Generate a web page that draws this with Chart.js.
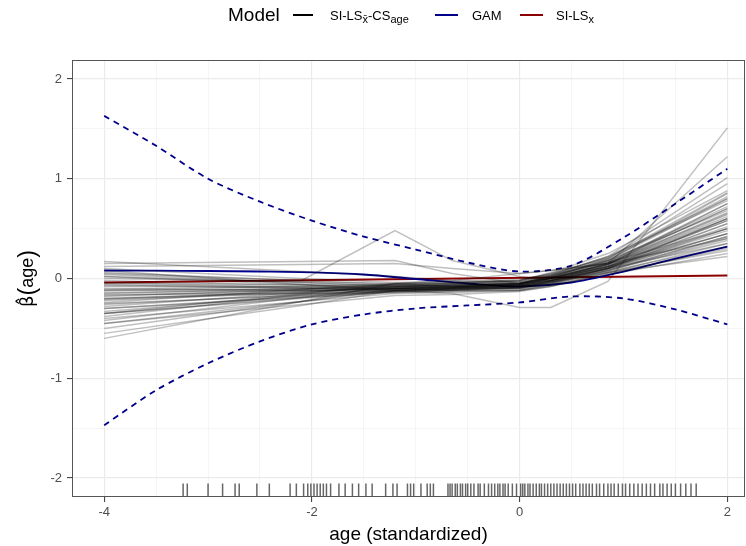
<!DOCTYPE html>
<html>
<head>
<meta charset="utf-8">
<script src="https://cdn.jsdelivr.net/npm/chart.js@4"></script>
<style>
  body { margin: 0; background: #fff; }
  canvas { display: block; }
</style>
</head>
<body>
<canvas id="grafico" width="746" height="546"></canvas>
<script>
// knots of the piecewise-linear SI-LS-CS curves (one curve per run)
let knots = [-4, -2.1, -1.2, -0.65, 0, 0.3, 0.85, 2];
let siCurves = [
  [-0.60, -0.23, -0.05, -0.08, -0.10, -0.05, 0.10, 0.55],
  [-0.50, -0.23, -0.10, -0.12, -0.12, -0.06, 0.08, 0.40],
  [-0.45, -0.23, -0.12, -0.10, -0.08, 0.00, 0.15, 0.70],
  [-0.42, -0.19, -0.08, -0.06, -0.05, 0.02, 0.18, 0.85],
  [-0.40, -0.23, -0.15, -0.14, -0.12, -0.08, 0.05, 0.30],
  [-0.38, -0.16, -0.06, -0.05, -0.02, 0.05, 0.20, 0.95],
  [-0.35, -0.19, -0.12, -0.10, -0.10, -0.04, 0.10, 0.60],
  [-0.33, -0.17, -0.10, -0.08, -0.06, 0.00, 0.12, 0.50],
  [-0.30, -0.19, -0.14, -0.12, -0.09, -0.02, 0.14, 0.75],
  [-0.28, -0.14, -0.08, -0.07, -0.05, 0.03, 0.22, 1.01],
  [-0.26, -0.16, -0.11, -0.10, -0.08, -0.03, 0.10, 0.45],
  [-0.25, -0.17, -0.13, -0.12, -0.11, -0.06, 0.06, 0.35],
  [-0.24, -0.11, -0.05, -0.04, -0.02, 0.06, 0.25, 0.88],
  [-0.22, -0.14, -0.10, -0.09, -0.07, -0.01, 0.15, 0.65],
  [-0.21, -0.13, -0.09, -0.08, -0.06, 0.01, 0.18, 0.80],
  [-0.20, -0.15, -0.12, -0.11, -0.09, -0.04, 0.09, 0.42],
  [-0.18, -0.11, -0.07, -0.06, -0.05, 0.02, 0.16, 0.70],
  [-0.17, -0.12, -0.10, -0.09, -0.07, -0.02, 0.12, 0.55],
  [-0.16, -0.15, -0.14, -0.13, -0.12, -0.07, 0.04, 0.25],
  [-0.15, -0.10, -0.08, -0.07, -0.05, 0.01, 0.20, 0.86],
  [-0.14, -0.12, -0.11, -0.10, -0.08, -0.03, 0.11, 0.48],
  [-0.12, -0.10, -0.09, -0.08, -0.06, 0.00, 0.14, 0.62],
  [-0.11, -0.08, -0.06, -0.05, -0.03, 0.04, 0.22, 0.80],
  [-0.10, -0.12, -0.13, -0.12, -0.10, -0.05, 0.08, 0.38],
  [-0.08, -0.09, -0.10, -0.09, -0.07, -0.02, 0.13, 0.58],
  [-0.07, -0.08, -0.08, -0.07, -0.05, 0.02, 0.17, 0.72],
  [-0.06, -0.10, -0.12, -0.11, -0.09, -0.04, 0.07, 0.32],
  [-0.05, -0.06, -0.07, -0.06, -0.04, 0.03, 0.19, 0.82],
  [-0.04, -0.09, -0.11, -0.10, -0.08, -0.03, 0.10, 0.45],
  [-0.02, -0.07, -0.09, -0.08, -0.06, 0.00, 0.15, 0.66],
  [0.00, -0.03, -0.05, -0.04, -0.02, 0.05, 0.21, 0.78],
  [0.02, -0.06, -0.10, -0.09, -0.07, -0.02, 0.11, 0.52],
  [0.04, -0.04, -0.08, -0.07, -0.05, 0.01, 0.14, 0.60],
  [0.06, -0.02, -0.06, -0.05, -0.03, 0.03, 0.18, 0.68],
  [0.08, -0.06, -0.12, -0.11, -0.09, -0.04, 0.06, 0.28],
  [0.10, 0.00, -0.04, -0.03, -0.01, 0.04, 0.16, 0.50],
  [0.12, 0.14, 0.15, 0.10, 0.05, 0.08, 0.15, 0.40],
  [0.15, 0.17, 0.18, 0.05, -0.05, -0.02, 0.10, 0.35],
  [0.17, 0.07, 0.02, -0.02, -0.04, 0.00, 0.12, 0.45],
  [0.05, -0.02, 0.48, 0.18, 0.02, -0.02, 0.12, 0.60],
  [-0.55, -0.27, -0.12, -0.15, -0.29, -0.29, -0.03, 1.51],
  [-0.35, -0.15, -0.05, -0.02, 0.05, 0.08, 0.15, 1.22],
  [-0.30, -0.18, -0.12, -0.10, -0.07, -0.02, 0.10, 0.50],
  [-0.20, -0.13, -0.10, -0.09, -0.06, 0.00, 0.12, 0.58],
  [-0.12, -0.11, -0.10, -0.09, -0.05, 0.01, 0.14, 0.64],
  [-0.35, -0.20, -0.13, -0.11, -0.09, -0.03, 0.08, 0.42],
  [0.02, -0.04, -0.07, -0.08, -0.06, 0.00, 0.16, 0.75],
  [-0.45, -0.26, -0.17, -0.16, -0.13, -0.08, 0.06, 0.22]
];

// GAM fit with its band
let gamX = [-4, -3.5, -3, -2.5, -2, -1.5, -1, -0.5, 0, 0.5, 1, 1.5, 2];
let gamFit = [0.08, 0.078, 0.075, 0.07, 0.062, 0.04, -0.005, -0.05, -0.08, -0.04, 0.07, 0.2, 0.32];
let gamUpper = [1.63, 1.33, 1.0, 0.77, 0.58, 0.42, 0.29, 0.16, 0.07, 0.13, 0.41, 0.75, 1.1];
let gamLower = [-1.47, -1.12, -0.85, -0.63, -0.46, -0.36, -0.3, -0.27, -0.24, -0.18, -0.2, -0.31, -0.46];

// SI-LS_x
let siLsX = [-4, 2];
let siLsY = [-0.04, 0.03];

// observed ages (rug)
let rugX = [-3.24, -3.20, -3.00, -2.86, -2.74, -2.70, -2.53, -2.41, -2.21, -2.15, -2.08, -2.04,
  -2.01, -1.98, -1.95, -1.92, -1.89, -1.86, -1.82, -1.74, -1.68, -1.61, -1.55, -1.48, -1.42,
  -1.29, -1.22, -1.18, -1.08, -1.05, -1.02, -0.95, -0.89, -0.86, -0.83, -0.69, -0.67, -0.65,
  -0.62, -0.60, -0.57, -0.55, -0.52, -0.50, -0.47, -0.44, -0.40, -0.38, -0.34, -0.30, -0.27,
  -0.24, -0.21, -0.19, -0.16, -0.14, -0.11, -0.07, -0.03, 0.01, 0.03, 0.05, 0.08, 0.10, 0.13,
  0.16, 0.19, 0.21, 0.24, 0.27, 0.30, 0.33, 0.36, 0.39, 0.42, 0.45, 0.48, 0.51, 0.54, 0.58,
  0.61, 0.64, 0.67, 0.70, 0.74, 0.77, 0.81, 0.85, 0.88, 0.91, 0.95, 0.99, 1.02, 1.06, 1.10,
  1.14, 1.18, 1.22, 1.26, 1.30, 1.35, 1.38, 1.42, 1.46, 1.50, 1.55, 1.60, 1.65, 1.70];

let xTicks = [-4, -2, 0, 2];
let yTicks = [-2, -1, 0, 1, 2];

let fonte = '"Liberation Sans", Arial, sans-serif';

function pares(xs, ys) {
  return xs.map((x, i) => ({ x: x, y: ys[i] }));
}

function meiosPassos(lo, hi) {
  let out = [];
  for (let v = lo; v <= hi + 1e-9; v += 0.5) out.push({ value: v });
  return out;
}

function ehMaior(v, lista) {
  return lista.some(t => Math.abs(t - v) < 1e-6);
}

let datasets = [];
siCurves.forEach(c => {
  datasets.push({
    data: pares(knots, c),
    borderColor: 'rgba(0,0,0,0.25)',
    borderWidth: 1.5,
    pointRadius: 0,
    tension: 0
  });
});
datasets.push({ data: pares(gamX, gamUpper), borderColor: '#00008B', borderWidth: 1.8, borderDash: [6, 5], pointRadius: 0, tension: 0.3 });
datasets.push({ data: pares(gamX, gamLower), borderColor: '#00008B', borderWidth: 1.8, borderDash: [6, 5], pointRadius: 0, tension: 0.3 });
datasets.push({ data: pares(gamX, gamFit), borderColor: '#00008B', borderWidth: 1.8, pointRadius: 0, tension: 0.3 });
datasets.push({ data: pares(siLsX, siLsY), borderColor: '#8B0000', borderWidth: 1.8, pointRadius: 0, tension: 0 });
datasets.push({
  data: rugX.map(x => ({ x: x, y: -2.125 })),
  showLine: false,
  pointStyle: 'line',
  rotation: 90,
  pointRadius: 7,
  pointBorderWidth: 1.5,
  pointBorderColor: 'rgba(0,0,0,0.6)',
  borderColor: 'rgba(0,0,0,0.6)'
});

// legenda no topo, titulo do eixo y e moldura do painel
let extras = {
  id: 'extras',
  afterDraw(chart) {
    let ctx = chart.ctx;
    let a = chart.chartArea;
    ctx.save();
    ctx.strokeStyle = '#555';
    ctx.lineWidth = 1;
    ctx.strokeRect(a.left + 0.5, a.top + 0.5, a.right - a.left - 1, a.bottom - a.top - 1);

    ctx.fillStyle = '#000';
    ctx.textBaseline = 'alphabetic';
    ctx.font = '19px ' + fonte;
    ctx.fillText('Model', 228, 21);

    function linha(x0, x1, cor) {
      ctx.strokeStyle = cor;
      ctx.lineWidth = 2;
      ctx.beginPath();
      ctx.moveTo(x0, 15);
      ctx.lineTo(x1, 15);
      ctx.stroke();
    }
    function partes(x, lista) {
      lista.forEach(p => {
        ctx.font = (p.sub ? '11px ' : '13px ') + fonte;
        ctx.fillText(p.t, x, p.sub ? 23 : 20);
        x += ctx.measureText(p.t).width;
      });
    }
    linha(293, 313, '#000');
    partes(330, [{ t: 'SI-LS' }, { t: 'x\u0304', sub: true }, { t: '-CS' }, { t: 'age', sub: true }]);
    linha(435, 458, '#00008B');
    partes(472, [{ t: 'GAM' }]);
    linha(520, 543, '#8B0000');
    partes(556, [{ t: 'SI-LS' }, { t: 'x', sub: true }]);

    // titulo do eixo y: beta chapeu (age)
    ctx.translate(33, (a.top + a.bottom) / 2);
    ctx.rotate(-Math.PI / 2);
    let pedacos = [
      { t: 'β\u0302', f: '18px "DejaVu Sans", sans-serif' },
      { t: '(', f: '23px ' + fonte },
      { t: 'age', f: '18px ' + fonte },
      { t: ')', f: '23px ' + fonte }
    ];
    let total = 0;
    pedacos.forEach(p => { ctx.font = p.f; total += ctx.measureText(p.t).width; });
    let x = -total / 2;
    pedacos.forEach(p => {
      ctx.font = p.f;
      ctx.fillText(p.t, x, p.t === '(' || p.t === ')' ? 2 : 0);
      x += ctx.measureText(p.t).width;
    });
    ctx.restore();
  }
};

function criarGrafico() {
  let ctx = document.getElementById('grafico').getContext('2d');
  new Chart(ctx, {
    type: 'line',
    data: { datasets: datasets },
    options: {
      responsive: false,
      animation: false,
      devicePixelRatio: 1,
      layout: { autoPadding: false, padding: { top: 60, right: 1, left: 0, bottom: 0 } },
      plugins: { legend: { display: false }, tooltip: { enabled: false } },
      scales: {
        x: {
          type: 'linear',
          min: -4.31,
          max: 2.17,
          afterBuildTicks: s => { s.ticks = meiosPassos(-4, 2); },
          afterFit: s => { s.height = 49; s.paddingLeft = 0; s.paddingRight = 0; },
          border: { display: false },
          grid: {
            color: c => ehMaior(c.tick.value, xTicks) ? '#ebebeb' : '#f3f3f3',
            lineWidth: c => ehMaior(c.tick.value, xTicks) ? 1.2 : 0.8,
            tickColor: c => ehMaior(c.tick.value, xTicks) ? '#333' : 'rgba(0,0,0,0)',
            tickLength: 5,
            tickWidth: 1
          },
          ticks: {
            autoSkip: false,
            maxRotation: 0,
            padding: 3,
            color: '#4d4d4d',
            font: { size: 13, family: fonte },
            callback: v => ehMaior(v, xTicks) ? String(Math.round(v)) : ''
          },
          title: {
            display: true,
            text: 'age (standardized)',
            color: '#000',
            font: { size: 19, family: fonte },
            padding: { top: 0, bottom: 0 }
          }
        },
        y: {
          type: 'linear',
          min: -2.19,
          max: 2.19,
          afterBuildTicks: s => { s.ticks = meiosPassos(-2, 2); },
          afterFit: s => { s.width = 72; s.paddingTop = 0; s.paddingBottom = 0; },
          border: { display: false },
          grid: {
            color: c => ehMaior(c.tick.value, yTicks) ? '#ebebeb' : '#f3f3f3',
            lineWidth: c => ehMaior(c.tick.value, yTicks) ? 1.2 : 0.8,
            tickColor: c => ehMaior(c.tick.value, yTicks) ? '#333' : 'rgba(0,0,0,0)',
            tickLength: 5,
            tickWidth: 1
          },
          ticks: {
            autoSkip: false,
            padding: 5,
            color: '#4d4d4d',
            font: { size: 13, family: fonte },
            callback: v => ehMaior(v, yTicks) ? String(Math.round(v)) : ''
          },
          title: { display: false }
        }
      }
    },
    plugins: [extras]
  });
}

document.addEventListener('DOMContentLoaded', criarGrafico);
</script>
</body>
</html>
